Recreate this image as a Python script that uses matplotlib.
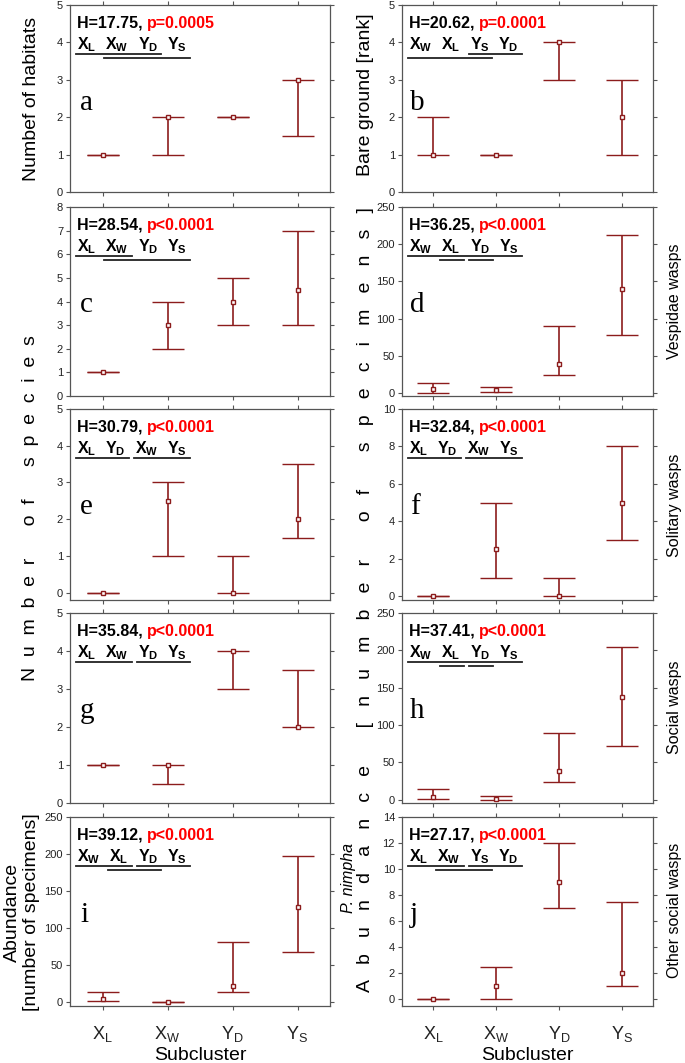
import matplotlib
matplotlib.use("Agg")
import matplotlib.pyplot as plt
from matplotlib.lines import Line2D
import numpy as np

plt.rcParams['font.family'] = ['Liberation Sans', 'DejaVu Sans']
plt.rcParams['mathtext.fontset'] = 'custom'
plt.rcParams['mathtext.rm'] = 'Liberation Sans'
plt.rcParams['mathtext.bf'] = 'Liberation Sans:bold'
plt.rcParams['mathtext.it'] = 'Liberation Sans:italic'

# ---------------- data ----------------
categories = ['XL', 'XW', 'YD', 'YS']
tick_labels = [r'X$_\mathregular{L}$', r'X$_\mathregular{W}$', r'Y$_\mathregular{D}$', r'Y$_\mathregular{S}$']

med_a = [1, 2, 2, 3];        low_a = [1, 1, 2, 1.5];      high_a = [1, 2, 2, 3]
med_b = [1, 1, 4, 2];        low_b = [1, 1, 3, 1];        high_b = [2, 1, 4, 3]
med_c = [1, 3, 4, 4.5];      low_c = [1, 2, 3, 3];        high_c = [1, 4, 5, 7]
med_d = [5, 4, 39, 140];     low_d = [0.5, 1.5, 24, 78];  high_d = [14, 8.5, 90, 212]
med_e = [0, 2.5, 0, 2];      low_e = [0, 1, 0, 1.5];      high_e = [0, 3, 1, 3.5]
med_f = [0, 2.5, 0, 5];      low_f = [0, 1, 0, 3];        high_f = [0, 5, 1, 8]
med_g = [1, 1, 4, 2];        low_g = [1, 0.5, 3, 2];      high_g = [1, 1, 4, 3.5]
med_h = [4, 1, 39, 137];     low_h = [0.5, 0, 24, 72];    high_h = [14, 5, 89, 204]
med_i = [4, 0, 22, 129];     low_i = [1, 0, 13, 68];      high_i = [14, 0, 81, 197]
med_j = [0, 1, 9, 2];        low_j = [0, 0, 7, 1];        high_j = [0, 2.5, 12, 7.5]

H_vals = ['17.75', '20.62', '28.54', '36.25', '30.79', '32.84', '35.84', '37.41', '39.12', '27.17']
p_vals = ['p=0.0005', 'p=0.0001', 'p<0.0001', 'p<0.0001', 'p<0.0001',
          'p<0.0001', 'p<0.0001', 'p<0.0001', 'p<0.0001', 'p<0.0001']

# homogeneous-group ordering and underline groups (first idx, last idx, level)
orders = [['XL', 'XW', 'YD', 'YS'], ['XW', 'XL', 'YS', 'YD'], ['XL', 'XW', 'YD', 'YS'],
          ['XW', 'XL', 'YD', 'YS'], ['XL', 'YD', 'XW', 'YS'], ['XL', 'YD', 'XW', 'YS'],
          ['XL', 'XW', 'YD', 'YS'], ['XW', 'XL', 'YD', 'YS'], ['XW', 'XL', 'YD', 'YS'],
          ['XL', 'XW', 'YS', 'YD']]
groups = [[(0, 2, 0), (1, 3, 1)], [(0, 2, 1), (2, 3, 0)], [(0, 1, 0), (1, 3, 1)],
          [(0, 3, 0), (1, 1, 1), (2, 2, 1)], [(0, 1, 0), (2, 3, 0)], [(0, 1, 0), (2, 3, 0)],
          [(0, 1, 0), (2, 3, 0)], [(0, 3, 0), (1, 1, 1), (2, 2, 1)],
          [(0, 1, 0), (2, 3, 0), (1, 2, 1)], [(0, 1, 0), (2, 3, 0), (1, 2, 1)]]

panel_letters = list('abcdefghij')
ylims = [(0, 5), (0, 5), (0, 8), (-4, 250), (-0.2, 5), (-0.2, 10), (0, 5), (-4.5, 250), (-5.5, 250), (-0.5, 14)]
yticks = [np.arange(0, 6, 1), np.arange(0, 6, 1), np.arange(0, 9, 1), np.arange(0, 251, 50),
          np.arange(0, 6, 1), np.arange(0, 11, 2), np.arange(0, 6, 1), np.arange(0, 251, 50),
          np.arange(0, 251, 50), np.arange(0, 15, 2)]

meds = [med_a, med_b, med_c, med_d, med_e, med_f, med_g, med_h, med_i, med_j]
lows = [low_a, low_b, low_c, low_d, low_e, low_f, low_g, low_h, low_i, low_j]
highs = [high_a, high_b, high_c, high_d, high_e, high_f, high_g, high_h, high_i, high_j]

bold_lab = {'XL': r'$\mathbf{X}_\mathbf{L}$', 'XW': r'$\mathbf{X}_\mathbf{W}$',
            'YD': r'$\mathbf{Y}_\mathbf{D}$', 'YS': r'$\mathbf{Y}_\mathbf{S}$'}

# ---------------- layout ----------------
W, H = 685, 1063
fig = plt.figure(figsize=(W / 100, H / 100), dpi=100)
renderer = fig.canvas.get_renderer()

cols = [(70, 260), (402, 251)]
rows = [(5, 192), (207, 396), (409, 600), (613, 803), (817, 1006)]
RED = '#8c1c1c'

xpos = np.arange(1, len(categories) + 1)

for k in range(10):
    r, c = divmod(k, 2)
    x0, w = cols[c]
    top, bot = rows[r]
    ax = fig.add_axes([x0 / W, 1 - bot / H, w / W, (bot - top) / H])
    med = np.array(meds[k], float); lo = np.array(lows[k], float); hi = np.array(highs[k], float)
    ax.errorbar(xpos, med, yerr=[med - lo, hi - med], fmt='s', color=RED, ecolor=RED,
                mfc='white', mec=RED, ms=3.4, mew=1.0, capsize=11.5, capthick=1.5,
                elinewidth=1.2, zorder=3)
    ax.set_xlim(0.5, 4.5)
    ax.set_ylim(*ylims[k])
    ax.set_yticks(yticks[k])
    ax.set_xticks(xpos)
    for s in ax.spines.values():
        s.set_color('#555555'); s.set_linewidth(0.9)
    ax.tick_params(direction='out', length=3, width=0.8, color='#555555', labelsize=8,
                   labelcolor='#222222', top=True, right=True, pad=2)
    if r == 4:
        ax.set_xticklabels(tick_labels, fontsize=13)
        ax.tick_params(axis='x', pad=10)
        ax.set_xlabel('Subcluster', fontsize=14, labelpad=2)
    else:
        ax.set_xticklabels([])

    bb = ax.get_window_extent(renderer)
    # statistics text
    t1 = fig.text((bb.x0 + 7) / W, (bb.y1 - 23) / H, 'H=' + H_vals[k] + ', ', fontsize=11.5,
                  fontweight='bold', ha='left', va='baseline')
    e1 = t1.get_window_extent(renderer)
    fig.text(e1.x1 / W, (bb.y1 - 23) / H, p_vals[k], fontsize=11.5, fontweight='bold',
             color='#ff0000', ha='left', va='baseline')
    # group labels
    x = bb.x0 + 7
    exts = []
    for code in orders[k]:
        t = fig.text(x / W, (bb.y1 - 44) / H, bold_lab[code], fontsize=11.5, ha='left', va='baseline')
        e = t.get_window_extent(renderer)
        exts.append((e.x0, e.x1))
        x = e.x1 + 9
    for (i, j, lev) in groups[k]:
        xa = exts[i][0] - 1
        xb = exts[j][1] + 3
        yl = bb.y1 - (49 + 4 * lev)
        fig.add_artist(Line2D([xa / W, xb / W], [yl / H, yl / H], transform=fig.transFigure,
                              color='#222222', lw=1.3))
    # panel letter
    fig.text((bb.x0 + (10 if c == 0 else 8)) / W, (bb.y1 - 105) / H, panel_letters[k],
             fontsize=21, family='Liberation Serif', ha='left', va='baseline')

# ---------------- outer labels ----------------
fig.text(32 / W, 1 - 99 / H, 'Numbef of habitats', rotation=90, fontsize=14, ha='center', va='center')
fig.text(365 / W, 1 - 95 / H, 'Bare ground [rank]', rotation=90, fontsize=14, ha='center', va='center')

def spaced(words, sp, wsp):
    return (' ' * wsp).join((' ' * sp).join(list(wd)) for wd in words)

fig.text(31 / W, 1 - 508 / H, spaced(['Number', 'of', 'species'], 2, 6), rotation=90,
         fontsize=14, ha='center', va='center')
fig.text(365 / W, 1 - 600 / H, spaced(['Abundance', '[number', 'of', 'specimens]'], 3, 7),
         rotation=90, fontsize=14, ha='center', va='center')
fig.text(349 / W, 1 - 878 / H, 'P. nimpha', rotation=90, fontsize=11.5, style='italic',
         ha='center', va='center')
fig.text(22 / W, 1 - 912 / H, 'Abundance\n[number of specimens]', rotation=90, fontsize=14,
         ha='center', va='center', linespacing=1.15)

fig.text(675 / W, 1 - 301 / H, 'Vespidae wasps', rotation=90, fontsize=11.5, ha='center', va='center')
fig.text(675 / W, 1 - 505 / H, 'Solitary wasps', rotation=90, fontsize=11.5, ha='center', va='center')
fig.text(675 / W, 1 - 707 / H, 'Social wasps', rotation=90, fontsize=11.5, ha='center', va='center')
fig.text(675 / W, 1 - 910 / H, 'Other social wasps', rotation=90, fontsize=11.5, ha='center', va='center')

fig.savefig('out.png', dpi=100)
